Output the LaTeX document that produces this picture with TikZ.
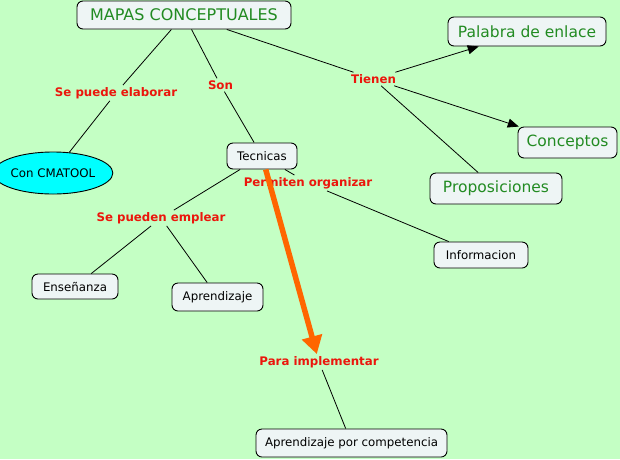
\documentclass[tikz,border=0pt]{standalone}
\usepackage{fontspec}
\setmainfont{DejaVu Sans}
\usetikzlibrary{arrows.meta,shapes.geometric}
\definecolor{bg}{RGB}{196,255,196}
\definecolor{boxfill}{RGB}{238,245,245}
\definecolor{cgreen}{RGB}{34,139,34}
\definecolor{lred}{RGB}{235,22,12}
\definecolor{orng}{RGB}{255,102,0}
\definecolor{ecyan}{RGB}{0,255,255}
\begin{document}
\begin{tikzpicture}[x=1pt,y=-1pt,
  concept/.style={draw=black, line width=0.9pt, rounded corners=6pt, fill=boxfill, inner sep=0pt, align=center},
  big/.style={concept, text=cgreen, font=\fontsize{15.5}{18}\selectfont},
  small/.style={concept, text=black, font=\fontsize{11.8}{14}\selectfont},
  lab/.style={text=lred, font=\bfseries\fontsize{11.8}{14}\selectfont, inner sep=2pt},
  link/.style={draw=black, line width=0.8pt},
  arr/.style={link, -{Triangle[length=11pt,width=9pt]}},
]
\fill[bg] (0,0) rectangle (620,459);
\useasboundingbox (0,0) rectangle (620,459);

% concepts
\node[big, minimum width=214pt, minimum height=28pt, font=\fontsize{16}{19}\selectfont] (mapas) at (184,15) {MAPAS CONCEPTUALES};
\node[big, minimum width=158pt, minimum height=29pt] (palabra) at (527,31.5) {Palabra de enlace};
\node[big, minimum width=99pt, minimum height=31pt] (conceptos) at (567.5,142.5) {Conceptos};
\node[big, minimum width=132pt, minimum height=31pt] (prop) at (496,188.5) {Proposiciones};
\node[ellipse, draw=black, line width=0.9pt, fill=ecyan, minimum width=104pt, minimum height=42pt, inner sep=0pt, font=\fontsize{11.8}{14}\selectfont] (cmatool) at (53,173) {Con CMATOOL};
\node[small, minimum width=70pt, minimum height=26pt] (tecnicas) at (262,156) {Tecnicas};
\node[small, minimum width=86pt, minimum height=25pt] (ensenanza) at (75,286.5) {Enseñanza};
\node[small, minimum width=91pt, minimum height=28pt] (aprendizaje) at (217.5,297) {Aprendizaje};
\node[small, minimum width=94pt, minimum height=26pt] (informacion) at (481,255) {Informacion};
\node[small, minimum width=191pt, minimum height=28pt] (apcomp) at (351.5,443) {Aprendizaje por competencia};

% linking phrases
\node[lab] (elab) at (116,93) {Se puede elaborar};
\node[lab] (son) at (220.5,85) {Son};
\node[lab] (tienen) at (373.5,79) {Tienen};
\node[lab] (permiten) at (308,183) {Permiten organizar};
\node[lab] (emplear) at (161,218) {Se pueden emplear};
\node[lab] (para) at (319,362) {Para implementar};

% connectors
\draw[link] (mapas) -- (elab);
\draw[link] (elab) -- (cmatool);
\draw[link] (mapas) -- (son);
\draw[link] (son) -- (tecnicas);
\draw[link] (mapas) -- (tienen);
\draw[arr] (tienen) -- (palabra);
\draw[arr] (tienen) -- (conceptos);
\draw[link] (tienen) -- (prop);
\draw[link] (tecnicas) -- (emplear);
\draw[link] (emplear) -- (ensenanza);
\draw[link] (emplear) -- (aprendizaje);
\draw[link] (tecnicas) -- (permiten);
\draw[link] (permiten) -- (informacion);
\draw[link] (para) -- (apcomp);
\draw[draw=orng, line width=5.5pt, -{Triangle[length=18pt,width=20pt]}] (tecnicas) -- (para);
\end{tikzpicture}
\end{document}
